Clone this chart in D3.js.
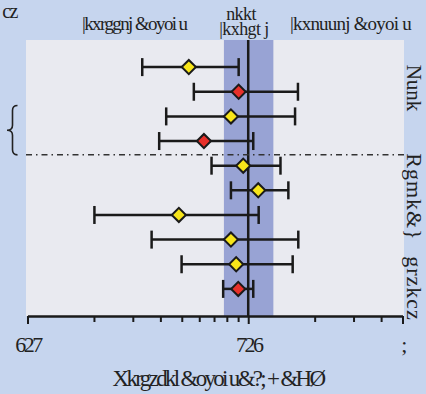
<html>
<meta charset="utf-8" />
<head>
<script src="https://cdn.jsdelivr.net/npm/d3@7"></script>
<style>
body { margin:0; background:#c6d5ee; }
svg { display:block; }
text { font-family:"Liberation Serif", "DejaVu Serif", serif; fill:#222; }
</style>
</head>
<body>
<svg width="426" height="394"></svg>
<script>
// data
const rows = ['r1', 'r2', 'r3', 'r4', 'r5', 'r6', 'r7', 'r8', 'r9', 'r10'];
const estimate = [0.538, 0.905, 0.835, 0.630, 0.949, 1.11, 0.485, 0.835, 0.882, 0.901];
const lower = [0.331, 0.567, 0.425, 0.395, 0.682, 0.835, 0.201, 0.365, 0.499, 0.770];
const upper = [0.905, 1.68, 1.63, 1.054, 1.40, 1.52, 1.115, 1.686, 1.59, 1.054];
const kind = ['y', 'r', 'y', 'r', 'y', 'y', 'y', 'y', 'y', 'r'];
const band = [0.776, 1.30];
const refValue = 1;
const tickValues = [0.1, 1, 5];
const tickLabels = ['627', '726', ';'];
const minorTicks = [0.2, 0.3, 0.4, 0.5, 0.6, 0.7, 0.8, 0.9, 2, 3, 4];
const headerLeft = '|kxrggnj &oyoi u';
const headerMid = ['nkkt', '|kxhgt j'];
const headerRight = '|kxnuunj &oyoi u';
const xTitle = 'Xkrgzdkl &oyoi u&?; + &HØ';
const sideLabels = ['Nunk', 'Rgmk&} grzkcz'];
const cornerLabel = 'cz';

const svg = d3.select('svg');
const pLeft = 26, pRight = 404, pTop = 40, pBottom = 316;

let x = d3.scaleLog().domain([0.1, 5]).range([27.5, 402.5]);
let y = d3.scalePoint().domain(rows).range([pTop, pBottom]).padding(1.1);
let step = y.step();

// panel
svg.append('rect').attr('x', pLeft).attr('y', pTop)
	.attr('width', pRight - pLeft).attr('height', pBottom - pTop)
	.style('fill', '#e9eaf0');

// shaded band + reference line
svg.append('rect').attr('x', x(band[0])).attr('y', pTop)
	.attr('width', x(band[1]) - x(band[0])).attr('height', pBottom - pTop)
	.style('fill', '#98a3d4');
svg.append('line').attr('x1', x(refValue)).attr('x2', x(refValue))
	.attr('y1', pTop).attr('y2', pBottom)
	.style('stroke', '#1a1a1a').style('stroke-width', '2.5px');

// separator between groups
let ySep = (y(rows[3]) + y(rows[4])) / 2 + 1.5;
svg.append('line').attr('x1', pLeft).attr('x2', pRight)
	.attr('y1', ySep).attr('y2', ySep)
	.style('stroke', '#333').style('stroke-width', '1.5px')
	.style('stroke-dasharray', '6,4,1.5,4');

// brace on the left
let bTop = ySep - 2 * step, bMid = ySep - step;
svg.append('path')
	.attr('d', 'M17.5,' + bTop + ' Q12.5,' + bTop + ' 12.5,' + (bTop + 5) +
		' L12.5,' + (bMid - 5) + ' Q12.5,' + bMid + ' 7,' + bMid +
		' Q12.5,' + bMid + ' 12.5,' + (bMid + 5) +
		' L12.5,' + (ySep - 5) + ' Q12.5,' + ySep + ' 17.5,' + ySep)
	.style('fill', 'none').style('stroke', '#222').style('stroke-width', '1.6px');

// error bars + diamonds
svg.selectAll('g.row')
	.data(rows).enter()
	.append('g')
	.attr('class', 'row')
	.attr('transform', (d) => 'translate(0,' + y(d) + ')')
	.each(function(d, i) {
		let g = d3.select(this);
		g.append('line').attr('x1', x(lower[i])).attr('x2', x(upper[i]))
			.attr('y1', 0).attr('y2', 0)
			.style('stroke', '#1a1a1a').style('stroke-width', '2.5px');
		[lower[i], upper[i]].forEach((v) => {
			g.append('line').attr('x1', x(v)).attr('x2', x(v))
				.attr('y1', -9).attr('y2', 9)
				.style('stroke', '#1a1a1a').style('stroke-width', '2.5px');
		});
		g.append('path')
			.attr('d', d3.symbol().type(d3.symbolSquare).size(100))
			.attr('transform', 'translate(' + x(estimate[i]) + ',0) rotate(45)')
			.style('fill', kind[i] === 'r' ? '#e8302a' : '#f7e51a')
			.style('stroke', '#1a1a1a').style('stroke-width', '2px');
	});

// x axis
let minorAxis = d3.axisBottom(x).tickValues(minorTicks).tickSize(6).tickFormat('');
svg.append('g').attr('transform', 'translate(0,' + pBottom + ')').call(minorAxis)
	.call((g) => { g.select('.domain').remove(); g.selectAll('line').style('stroke', '#1a1a1a').style('stroke-width', '2px'); });

let xAxis = d3.axisBottom(x).tickValues(tickValues).tickSize(8).tickSizeOuter(0)
	.tickFormat((d, i) => tickLabels[i]);
let ax = svg.append('g').attr('transform', 'translate(0,' + pBottom + ')').call(xAxis);
ax.select('.domain').style('stroke', '#1a1a1a').style('stroke-width', '2.5px');
ax.selectAll('line').style('stroke', '#1a1a1a').style('stroke-width', '2px');
ax.selectAll('text').attr('y', 20).style('font-size', '22px')
	.style('font-family', '"Liberation Serif", serif').style('fill', '#222')
	.style('letter-spacing', '-2.5px');

svg.append('text').attr('x', 218).attr('y', 386).attr('text-anchor', 'middle')
	.style('font-size', '23px').style('letter-spacing', '-2.7px').text(xTitle);

// headers
svg.append('text').attr('x', 82).attr('y', 30).style('font-size', '19px')
	.style('letter-spacing', '-1.6px').text(headerLeft);
svg.append('text').attr('x', 241).attr('y', 20).attr('text-anchor', 'middle')
	.style('font-size', '18px').style('letter-spacing', '-0.6px').text(headerMid[0]);
svg.append('text').attr('x', 244).attr('y', 35).attr('text-anchor', 'middle')
	.style('font-size', '18px').style('letter-spacing', '-0.6px').text(headerMid[1]);
svg.append('text').attr('x', 290).attr('y', 30).style('font-size', '19px')
	.style('letter-spacing', '-0.8px').text(headerRight);
svg.append('text').attr('x', 17).attr('y', 18).attr('text-anchor', 'end')
	.style('font-size', '20px').style('letter-spacing', '-1.5px').text(cornerLabel);

// side labels
[[sideLabels[0], 88, 21, 0], [sideLabels[1], 237, 22, 1]].forEach((s) => {
	svg.append('text').attr('transform', 'translate(407,' + s[1] + ') rotate(90)')
		.attr('text-anchor', 'middle').style('font-size', s[2] + 'px')
		.style('letter-spacing', s[3] + 'px').style('word-spacing', '9px').text(s[0]);
});
</script>
</body>
</html>
